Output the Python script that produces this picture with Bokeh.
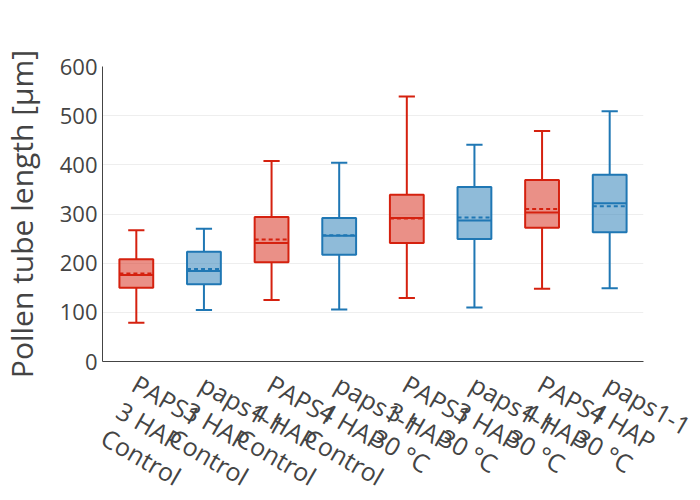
import math
from bokeh.plotting import figure
from bokeh.layouts import column, row
from bokeh.models import ColumnDataSource, FactorRange, Range1d, FixedTicker
from bokeh.transform import dodge
from bokeh.core.properties import value
from bokeh.embed import file_html
from bokeh.resources import INLINE

categories = ["PAPS1\n3 HAP\nControl", "paps1-1\n3 HAP\nControl",
              "PAPS1\n4 HAP\nControl", "paps1-1\n4 HAP\nControl",
              "PAPS1\n3 HAP\n30 °C", "paps1-1\n3 HAP\n30 °C",
              "PAPS1\n4 HAP\n30 °C", "paps1-1\n4 HAP\n30 °C"]
lower = [79, 105, 125, 106, 129, 110, 148, 149]
q1 = [150, 157, 202, 217, 241, 249, 272, 263]
median = [176, 184, 241, 256, 292, 287, 303, 322]
mean = [179, 188, 248, 257, 291, 293, 310, 316]
q3 = [208, 223, 294, 292, 339, 355, 369, 380]
upper = [267, 270, 408, 404, 539, 441, 469, 509]
y_title = "Pollen tube length [µm]"
RED = "#d5210f"
BLUE = "#1f77b4"
colors = [RED, BLUE] * 4

n = len(categories)
src = ColumnDataSource(dict(cat=categories, lower=lower, q1=q1, median=median,
                            mean=mean, q3=q3, upper=upper, color=colors))

FONT = "Open Sans"
GREY = "#444444"

TOTAL_W, TOTAL_H = 692, 496
TITLE_W = 44
W = TOTAL_W - TITLE_W
LEFT, RIGHT, TOP = 102 - TITLE_W, 49, 66
FRAME_BOTTOM = 361
P_H = 374

# ---- y-axis title strip
tf = figure(width=TITLE_W, height=TOTAL_H, x_range=Range1d(0, TITLE_W), y_range=Range1d(0, TOTAL_H),
            output_backend="svg", toolbar_location=None, x_axis_location=None, y_axis_location=None,
            min_border_left=0, min_border_right=0, min_border_top=0, min_border_bottom=0)
tf.frame_align = False
tf.outline_line_color = None
tf.xgrid.visible = False
tf.ygrid.visible = False
tf.text(x=[21], y=[TOTAL_H - (TOP + FRAME_BOTTOM) / 2.0], text=[y_title], angle=math.pi / 2,
        text_align="center", text_baseline="middle", text_font=value(FONT),
        text_font_size="30px", text_color=GREY)

# ---- main plot
p = figure(width=W, height=P_H, x_range=FactorRange(*categories),
           y_range=Range1d(0, 600), output_backend="svg", toolbar_location=None,
           min_border_left=LEFT, min_border_top=TOP, min_border_right=RIGHT,
           min_border_bottom=P_H - FRAME_BOTTOM)
p.frame_align = False
p.outline_line_color = None

p.xgrid.grid_line_color = None
p.ygrid.grid_line_color = "#eeeeee"
p.ygrid.grid_line_width = 1
p.yaxis.ticker = FixedTicker(ticks=[0, 100, 200, 300, 400, 500, 600])
p.xaxis.ticker = FixedTicker(ticks=[])

for ax in (p.xaxis, p.yaxis):
    ax.major_tick_line_color = None
    ax.minor_tick_line_color = None
    ax.major_tick_out = 0
    ax.major_tick_in = 0
    ax.axis_line_color = GREY
    ax.axis_line_width = 1
    ax.major_label_text_font = FONT
    ax.major_label_text_color = GREY

p.yaxis.major_label_text_font_size = "22px"
p.xaxis.major_label_standoff = 0
p.yaxis.major_label_standoff = 5

# whisker stems
p.segment(x0="cat", x1="cat", y0="q3", y1="upper", line_color="color", line_width=2, source=src)
p.segment(x0="cat", x1="cat", y0="q1", y1="lower", line_color="color", line_width=2, source=src)
# caps
for col in ("upper", "lower"):
    p.segment(x0=dodge("cat", -0.12, range=p.x_range), x1=dodge("cat", 0.12, range=p.x_range),
              y0=col, y1=col, line_color="color", line_width=2, source=src)
# boxes
p.vbar(x="cat", top="q3", bottom="q1", width=0.5, fill_color="color", fill_alpha=0.5,
       line_color="color", line_width=2, source=src)
# median
p.segment(x0=dodge("cat", -0.25, range=p.x_range), x1=dodge("cat", 0.25, range=p.x_range),
          y0="median", y1="median", line_color="color", line_width=2, source=src)
# mean
p.segment(x0=dodge("cat", -0.25, range=p.x_range), x1=dodge("cat", 0.25, range=p.x_range),
          y0="mean", y1="mean", line_color="color", line_width=2, line_dash="4 3", source=src)

# ---- category label strip below, wider frame mapped so centres line up with the plot
frame_w = W - LEFT - RIGHT
fw = frame_w / n
L2 = 6
lab_src = ColumnDataSource(dict(pos=[i + 0.5 for i in range(n)], text=categories,
                                base=[1] * n))
p2 = figure(width=W, height=TOTAL_H - P_H,
            x_range=Range1d(-(LEFT - L2) / fw, n + RIGHT / fw),
            y_range=Range1d(0, 1), output_backend="svg", toolbar_location=None,
            x_axis_location=None, y_axis_location=None,
            min_border_left=L2, min_border_right=0, min_border_top=0, min_border_bottom=0)
p2.frame_align = False
p2.outline_line_color = None
p2.xgrid.visible = False
p2.ygrid.visible = False
p2.text(x="pos", y="base", text="text", source=lab_src, angle=-0.5236,
        x_offset=7, y_offset=-8, text_align="left", text_baseline="top",
        text_font=value(FONT), text_font_size="25px", text_color=GREY,
        text_line_height=0.91)

layout = row(tf, column(p, p2, spacing=0), spacing=0)
open("out.html", "w").write(file_html(layout, INLINE))
